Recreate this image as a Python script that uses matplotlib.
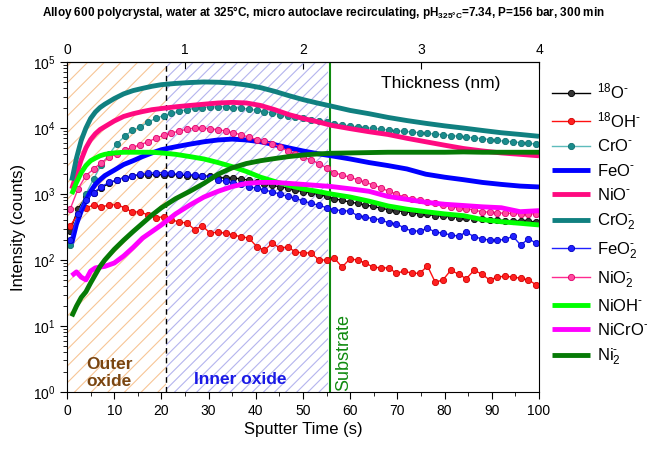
import numpy as np
import matplotlib
matplotlib.use('Agg')
import matplotlib.pyplot as plt
from matplotlib.ticker import MultipleLocator, LogLocator, NullFormatter

plt.rcParams['font.family'] = ['Liberation Sans', 'DejaVu Sans']
plt.rcParams['mathtext.fontset'] = 'custom'
plt.rcParams['mathtext.rm'] = 'Liberation Sans'
plt.rcParams['mathtext.it'] = 'Liberation Sans:italic'
plt.rcParams['mathtext.bf'] = 'Liberation Sans:bold'
plt.rcParams['hatch.linewidth'] = 0.8

# --- data
# marker series sampled every ~1.65 s
t_m = np.linspace(0.7, 99.4, 61)

o18 = [280, 600, 900, 1050, 1250, 1450, 1650, 1780, 1880, 1950,
       1950, 1980, 1950, 1980, 1950, 1900, 1880, 1900, 1850, 1780,
       1750, 1740, 1700, 1620, 1500, 1420, 1350, 1290, 1230, 1150,
       1080, 1040, 980, 920, 850, 800, 760, 720, 680, 650,
       610, 580, 560, 540, 520, 500, 490, 470, 460, 450,
       440, 430, 425, 415, 405, 400, 395, 395, 390, 385, 380]

oh18 = [330, 500, 620, 680, 640, 680, 690, 620, 530, 540,
        480, 440, 450, 410, 375, 365, 290, 330, 255, 265,
        255, 240, 225, 215, 160, 140, 180, 152, 158, 132,
        128, 128, 100, 100, 107, 78, 104, 100, 90, 78,
        76, 76, 63, 68, 63, 63, 81, 46, 50, 70,
        61, 52, 70, 61, 50, 55, 57, 55, 53, 50, 42]

cro = [170, 500, 1000, 1700, 2800, 4000, 5800, 7500, 9300, 10400,
       12300, 14000, 15500, 16800, 18000, 19000, 20000, 20500, 21000, 21000,
       21000, 20500, 20000, 19500, 18500, 17800, 17000, 16000, 15000, 14500,
       14000, 13300, 12800, 12200, 11600, 11200, 10700, 10400, 10100, 9900,
       9600, 9300, 9100, 8900, 8700, 8500, 8300, 8100, 7900, 7700,
       7500, 7300, 7100, 6900, 6700, 6500, 6300, 6200, 6000, 5900, 5700]

feo2 = [200, 500, 800, 1050, 1300, 1500, 1650, 1780, 1900, 2000,
        2050, 2100, 2100, 2050, 2000, 1980, 1950, 1880, 1800, 1650,
        1550, 1480, 1400, 1300, 1220, 1150, 1080, 1000, 920, 860,
        790, 720, 680, 620, 580, 560, 550, 470, 450, 420,
        410, 365, 355, 305, 275, 275, 305, 265, 255, 240,
        230, 265, 225, 210, 200, 200, 205, 230, 168, 210, 180]

nio2 = [600, 1200, 1900, 2400, 3000, 3600, 4100, 4600, 5100, 5600,
        6200, 7000, 7800, 8400, 9000, 9600, 10000, 10000, 9700, 9500,
        9000, 8500, 7900, 7300, 6700, 6300, 5800, 5200, 4500, 4000,
        3600, 3300, 2900, 2500, 2100, 1950, 1800, 1650, 1500, 1380,
        1250, 1100, 1000, 900, 850, 800, 760, 730, 680, 640,
        620, 600, 570, 540, 530, 520, 510, 510, 500, 500, 500]

# thick line series
t_l = [1, 2, 3, 4, 5, 6, 7, 8, 10, 12, 14, 16, 18, 20, 23, 26, 29, 32, 35,
       38, 41, 44, 47, 50, 53, 56, 60, 64, 68, 72, 76, 80, 84, 88, 92, 96, 100]

feo = [180, 350, 550, 800, 1100, 1400, 1650, 1900, 2300, 2800, 3200, 3700,
       4200, 4700, 5200, 5700, 6200, 6600, 6800, 6600, 6200, 5600, 5000,
       4500, 4100, 3800, 3400, 3000, 2700, 2400, 2000, 1800, 1650, 1500,
       1400, 1320, 1280]

nio = [1200, 2000, 3300, 5000, 6700, 8200, 9500, 10500, 12800, 15000, 16500,
       17800, 19000, 19800, 21000, 22000, 23000, 24000, 24500, 24000, 22000,
       19000, 16000, 14000, 12500, 11000, 9800, 8800, 8000, 7000, 6200, 5500,
       4900, 4500, 4200, 4000, 3800]

cro2 = [1600, 3500, 6500, 10000, 14000, 17500, 20500, 23000, 28000, 33000,
        37000, 40000, 43000, 45500, 47500, 49000, 50000, 49500, 48000, 45000,
        41000, 36000, 31000, 27000, 24000, 21500, 18500, 16500, 14500, 13000,
        11800, 10800, 10000, 9200, 8500, 8000, 7500]

nioh = [1000, 1500, 2100, 2700, 3200, 3500, 3800, 4000, 4200, 4300, 4300,
        4300, 4300, 4200, 4000, 3700, 3400, 3000, 2600, 2200, 1800, 1550,
        1350, 1200, 1100, 1000, 900, 780, 660, 590, 540, 500, 470, 410, 380,
        360, 340]

nicro = [58, 66, 55, 50, 68, 76, 78, 80, 90, 115, 155, 215, 270, 340, 500,
         680, 900, 1100, 1300, 1450, 1500, 1500, 1450, 1400, 1350, 1300, 1200,
         1100, 920, 830, 750, 700, 670, 640, 620, 540, 560]

ni2 = [14, 20, 27, 33, 45, 60, 80, 100, 145, 200, 270, 360, 480, 620, 850,
       1100, 1450, 2000, 2500, 2900, 3200, 3450, 3700, 3900, 4050, 4150, 4200,
       4250, 4300, 4300, 4300, 4300, 4350, 4300, 4300, 4300, 4300]

outer_end = 21
inner_end = 55.2
substrate_x = 55.8

# ============================   Plot   ======================================
fig = plt.figure(figsize=(6.47, 4.5), dpi=100)
ax = fig.add_axes([0.1036, 0.129, 0.7295, 0.733])

ax.axvspan(0, outer_end, facecolor='none', edgecolor='#f7c596', hatch='//', lw=0)
ax.axvspan(outer_end, inner_end, facecolor='none', edgecolor='#b4b4ee', hatch='///', lw=0)
ax.axvline(outer_end, color='k', ls=(0, (4, 3)), lw=1)
ax.axvline(substrate_x, color='#0f8a0f', lw=1.5)

thick = dict(lw=3.5, solid_capstyle='butt')
mk = dict(lw=1, marker='o', ms=4.5, mew=0.6)

ax.plot(t_m, o18, color='k', mfc='#333333', mec='k', label=r'$^{18}$O$^{\text{-}}$', **mk)
ax.plot(t_m, oh18, color='#ff1010', mfc='#ff2020', mec='#d00000', label=r'$^{18}$OH$^{\text{-}}$', **mk)
ax.plot(t_m, cro, color='#5ebcbc', mfc='#1a8c8c', mec='#0f7070', label=r'CrO$^{\text{-}}$', **mk)
ax.plot(t_l, feo, color='#0000ff', label=r'FeO$^{\text{-}}$', **thick)
ax.plot(t_l, nio, color='#ff0a80', label=r'NiO$^{\text{-}}$', **thick)
ax.plot(t_l, cro2, color='#108080', label=r'CrO$_2^{\text{-}}$', **thick)
ax.plot(t_m, feo2, color='#2020ff', mfc='#2020ff', mec='#0000c0', label=r'FeO$_2^{\text{-}}$', **mk)
ax.plot(t_m, nio2, color='#ff2a90', mfc='#ff4aa0', mec='#e0006a', label=r'NiO$_2^{\text{-}}$', **mk)
ax.plot(t_l, nioh, color='#00ff00', label=r'NiOH$^{\text{-}}$', **thick)
ax.plot(t_l, nicro, color='#ff00ff', label=r'NiCrO$^{\text{-}}$', **thick)
ax.plot(t_l, ni2, color='#067a06', label=r'Ni$_2^{\text{-}}$', **thick)

ax.set_yscale('log')
ax.set_xlim(0, 100)
ax.set_ylim(1, 1e5)
ax.xaxis.set_major_locator(MultipleLocator(10))
ax.xaxis.set_minor_locator(MultipleLocator(5))
ax.yaxis.set_major_locator(LogLocator(base=10, numticks=10))
ax.yaxis.set_minor_locator(LogLocator(base=10, subs=np.arange(2, 10), numticks=10))
ax.yaxis.set_minor_formatter(NullFormatter())
ax.tick_params(which='major', length=5, labelsize=10, top=False, right=False)
ax.tick_params(which='minor', length=3, top=False, right=False)
ax.set_xlabel('Sputter Time (s)', fontsize=12, labelpad=3)
ax.set_ylabel('Intensity (counts)', fontsize=12, labelpad=5)

sec = ax.secondary_xaxis('top', functions=(lambda x: x * 0.04, lambda x: x / 0.04))
sec.set_xticks([0, 1, 2, 3, 4])
sec.tick_params(direction='in', length=5, labelsize=10)

ax.text(4, 1.1, 'Outer\noxide', color='#7a4510', fontsize=12.5, fontweight='bold',
        ha='left', va='bottom', linespacing=1.15)
ax.text(27, 1.2, 'Inner oxide', color='#1a1ae6', fontsize=12.5, fontweight='bold',
        ha='left', va='bottom')
ax.text(58.6, 1.05, 'Substrate', color='#0f8a0f', fontsize=13, rotation=90,
        ha='center', va='bottom')
ax.text(66.5, 4.8e4, 'Thickness (nm)', fontsize=12.5, ha='left', va='center')

ax.legend(loc='upper left', bbox_to_anchor=(1.013, 0.96), frameon=False,
          fontsize=12, handlelength=2.3, handletextpad=0.4, labelspacing=0.5,
          borderaxespad=0)

fig.text(0.5, 0.972,
         r'Alloy 600 polycrystal, water at 325°C, micro autoclave recirculating, '
         r'pH$_{\mathbf{325°C}}$=7.34, P=156 bar, 300 min',
         ha='center', va='center', fontsize=8.5, fontweight='bold')

fig.savefig('out.png', dpi=100)
